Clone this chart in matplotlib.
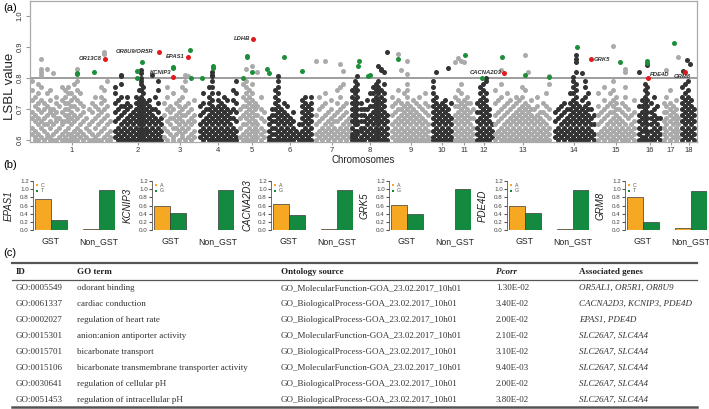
import matplotlib
matplotlib.use("Agg")
import matplotlib.pyplot as plt
import numpy as np

plt.rcParams['font.family'] = ['Liberation Sans', 'DejaVu Sans']

# ---------------- panel (a): LSBL manhattan data ----------------
chrom_names = [str(i) for i in range(1, 19)]
chrom_edges = [30, 113, 162, 197, 238, 266, 314, 350, 390, 431, 453, 475, 493, 552, 595, 637, 662, 680, 697]

# per chromosome: "position:lsbl*100,..." (cumulative position)
chrom_snps = [
    "32:62,64,67,69,73,76,79;35:60,61,63,66,68,71,74;38:60,62,65,67,70,72,75,78;41:61,64,66,69,73,77,81,82,83,86;44:60,63,65,67,70,72;47:61,62,65,68,71,75,83;50:60,61,64,66,69,70,73,76;53:60,62,65,68,70,81.7;56:60,63,66,67,69,72,74;59:61,64,67,71;62:60,62,65,66,69,73,77;65:60,61,63,66,68,70,72,74,76;68:60,62,64,66,67,68,70,72,75,77;71:60,61,62,65,67,69,71,73,75;74:60,61,63,66,68,71,74,78;77:60,62,64,67,70,73,76,79,82.9;80:61,63,65,68,72,75;83:60,62,66,69,71;86:61,64,67;89:60,63,65,70;92:60,62,66,69,72;95:60,61,64,67,71,74;98:60,62,65,68,70;101:60,63,66,69,72,74,77;104:61,64,67,70,73,76,88.4,87.7;107:60,62,65,68,71,79;110:60,61,63,66",
    "115:61,63,66,69,72,75,77;118:60,62,64,67,70,73;121:60,61,63,65,68,71,74,78,81,80.5;124:60,62,64,66,69,71;127:60,61,63,65,67,70,72,74;130:60,62,64,66,68,71;133:60,61,63,65,67,69;136:60,62,64,66,68,70,72,74;139:60,61,63,65,67,69,71,73,76;141:60,62,64,66,68,70,72,74,76,78,79,80,81.5,82.5;143:60,61,63,65,67,69,71,73,75,77;146:60,62,63,64,66,68,70,72;149:60,61,63,65,67,69,71,73;152:60,62,64,66,68,70,81;155:60,61,63,65,67,70,74;158:60,62,64,66,69,72,76,79;161:60,61,63,65,67",
    "164:61,64,68,72;167:60,63,66,70,74,77;170:62,65,67,69,71;173:60,61,64,67,70,75;176:62,64,66,68,72;179:60,63,65,67,69,71,73;182:61,62,64,66,68,70,74,77;185:60,63,65,68,71,76,79,81;188:61,64,66,69,72,80.5;191:60,62,65,67,70;194:61,63,66,68,73",
    "200:61,63,65,68,71;203:60,62,64,66,69,72,75;206:61,63,65,67,70;209:60,62,64,66,68,70,72,74,77;212:60,61,63,65,67,69,71,73,75,77,79,80.5,81,82;215:60,62,64,66,68,70;218:60,61,63,65,67,69,71,73,75;221:60,62,64,66,68,70,72;224:60,61,63,65,67,69,71,74;227:60,62,64,66,68,70,73;230:60,61,63,65,67,69;233:60,62,64,67,70,73,76;236:60,61,63,66,69,72,75,79",
    "240:61,64,67,70;243:60,62,65,68,71,74,78;246:60,61,63,65,67,69,71,73,75,77,79,83;249:60,62,64,66,68,70,72,74,76;252:60,61,63,65,67,69,71,73,75,78,84;255:60,62,64,66,68,70,72;257:61,63,65,68,71,82;261:60,62,64,67,70,74;264:61,63,66,69",
    "269:60,61,63,65,67;272:60,62,64,66,68,70;275:60,62,64,66,68,70,72,74,76;278:60,61,63,65,67,69,71,73,75,77,79,80.5;281:60,62,64,66,68,70;284:60,61,63,65,67,69,72;287:60,62,64,66,68,71;290:60,61,63,65,67;293:60,62,64,66,69;296:61,63;299:60,62,65;302:60,61,63,65,67,69,71,73;305:60,62,64,66,68,70,72,74;308:60,61,63,65,67,69,71;311:60,62,64,66,68,70,72,74",
    "316:60,62,65,68,85.5;319:61,63,66,70,74;322:60,62,64,67,71;325:61,63,65,68,72,75,85.3;328:60,62,64,66,69;331:61,63,65,67,70,73;334:60,62,64,66,68;337:61,63,66,69,72,76;340:60,62,64,67,70,74,77,84.5;343:61,63,65,68,71,78,82.2;346:60,62,64,66,69,72;349:61,63,65,67",
    "352:60,61,62,64,66,68,70,72,74,76;355:60,61,63,65,67,69,71,73,75,77,79;357:60,62,63,65,66,68,70,72,74,76,78,80.6;361:60,61,63,64,66,68,70,72;364:60,62,64,66,68,70;367:61,63,65,67,70,73;370:60,62,64,66,68,71,75;373:60,61,63,65,67,69,71,73,75,77;376:60,62,64,66,68,70,72,74,76,78;378:60,61,63,65,67,69,71,73,75,77,79,84;381:60,62,64,66,68,70,72,74,76,83,82.5;384:60,61,63,65,67,69,71,73,75,78,82;387:60,62,64,66,68,88.5",
    "392:61,63,65,68,71,74;395:60,62,64,66,69,72;398:60,61,63,65,67,70,73,76,87.7;401:60,62,64,66,68,70,72,82.6;404:60,61,63,65,67,69,71,75;407:60,62,64,66,68,70,72,74,76,78,81.3,85.5;410:60,61,63,65,67,69,71;413:60,62,64,66,68,70,73;416:60,61,63,65,67,69,72;419:60,62,64,66,68,71,74;422:60,61,63,65,67,70;425:60,62,64,66,69,72,75;428:60,61,63,65,68,71",
    "433:60,61,63,65,67,69,71,73,75,77,79;436:60,62,64,66,68,70,72,74,81.8;439:60,61,63,65,67,69,71;442:60,62,64,66,68,70,72;445:60,61,63,65,67,69,71,73;448:60,62,64,66,68,70,83.3;451:60,61,63,65,67,72",
    "455:60,62,64,66,68,71,74,85;458:60,61,63,65,67,69,71,73,76,86.5;461:60,62,64,66,68,70,72,75,78,85.3;464:60,61,63,65,67,69,71,73,85;467:60,62,64,66,68,70,72,74;470:60,61,63,65,67,69,72;473:60,62,64,67,70",
    "477:60,62,64,66,69,72;480:60,61,63,65,67,69,71,73,75,77;483:60,62,64,66,68,70,72,74,76,78;486:60,61,63,65,67,69,71,73,75,79,80;489:60,62,64,66,68,70;492:61,63,65",
    "495:60,62,65,68,72,76;498:61,63,66,69,73;501:60,62,64,67,70,74,78,82.6;504:60,61,63,65,68,71;507:60,62,64,66,69,72,75;510:60,61,63,65,67,70,73;513:60,62,64,66,68,71;516:60,61,63,65,67,69,72,74;519:60,62,64,66,68,70,73;522:60,61,63,65,67,69,71,74,77;525:60,62,64,66,68,70,72,76,87.4;528:60,61,63,65,67,69,71,82;531:60,62,64,66,68,70,73;534:60,61,63,65,67,70;537:60,62,64,66,68,71,74;540:60,61,63,65,67,69;543:60,62,64,66,69,72;546:60,61,63,65,68,71,75;549:60,62,64,67,70,78,80.5",
    "555:61,63,66,69;558:60,62,64,67,70;561:61,63,65,68,71;564:60,62,64,66,69,72;567:61,63,65,67,70;570:60,62,64,66,68,70,72,75;573:60,61,63,65,67,69,71,73,75,77,79,80.4;576:60,62,64,66,68,70,72,74,76,78,82,85,86,87.4;579:60,61,63,65,67,69,71;582:60,62,64,66,68,70,73,81.7;585:60,61,63,65,67,69,71,74,77,79;588:60,62,64,66,68,70,72,75;591:61,63,65,67,70;594:60,62,65,68",
    "598:60,62,65,68,71,75;601:61,63,66,69;604:60,62,64,67,70,73,77;607:61,63,65,68,71;610:60,62,64,66,69,72,75;613:60,61,63,65,67,69,71,73,76,79,90.3;616:60,62,64,66,68,70,72,74;619:61,63,65,67,70;622:60,62,64,66,69,72;625:60,61,63,65,68,71,74,77,82,82.8;628:60,62,64,67,70;631:61,63,65,68;634:60,62,64,66,69,73",
    "639:60,62,64,66,68,71,82;642:60,61,63,65,67,69,71,73;645:60,61,63,64,66,68,70,72,74,76,78;647:60,62,63,65,67,69,71,73,75,77,84.2;651:60,61,63,65,67,69,72;654:60,62,64,66,68,70,74;657:61,63,65,67,71;660:60,62,64,67",
    "664:60,62,64,66,69,72;666:61,63,65,67,69,71,74,82.6;670:60,62,64,66,68,70,72,76;673:61,63,65,67,69,71;676:60,62,64,66,68,70,73;678:61,63,65,67,86.9",
    "682:60,62,64,66,68,70,72,74,77;683:82.2;685:61,63,65,67,69,71,73,75,78;687:85.8;688:60,62,64,66,68,70,72,74,76,79;690:84.4;691:61,63,65,67,69,71,73;694:60,62,64,66,68,70",
]

# candidate windows above threshold (green)
green_pos = [77, 77, 93.7, 136.7, 136.7, 141.7, 173.3, 173.3, 190, 190.7, 201.7, 212.7, 212.7, 243.3,
             247.3, 247.3, 251.7, 266.7, 269.3, 284.3, 301.7, 359.3, 358.3, 368.3, 370, 397.7, 465,
             481.7, 502, 525, 549, 576.7, 619.7, 646.7, 646.7, 674.3]
green_lsbl = [0.817, 0.813, 0.818, 0.822, 0.800, 0.851, 0.836, 0.831, 0.890, 0.800, 0.800, 0.838, 0.833, 0.800,
              0.872, 0.866, 0.820, 0.828, 0.817, 0.866, 0.822, 0.853, 0.840, 0.807, 0.808, 0.861, 0.874,
              0.801, 0.867, 0.811, 0.804, 0.900, 0.851, 0.853, 0.848, 0.912]

# labelled genes (red)
red_genes = ['OR13C8', 'OR8U9/OR5R', 'KCNIP3', 'EPAS1', 'LDHB', 'CACNA2D3', 'GRK5', 'PDE4D', 'GRM8']
red_pos = [105.3, 159.3, 173.3, 188.3, 253.3, 504, 590.7, 648.3, 685]
red_lsbl = [0.862, 0.885, 0.804, 0.869, 0.926, 0.816, 0.860, 0.800, 0.820]
label_dx = [-4, -6, -2, -4, -3, -2, 3, 2, -3]
label_dy = [0, 0, 0.013, 0, 0, 0, 0, 0.010, -0.016]
label_ha = ['right', 'right', 'right', 'right', 'right', 'right', 'left', 'left', 'center']

threshold = 0.8

# ---------------- panel (b): allele frequencies ----------------
genes_b = ['EPAS1', 'KCNIP3', 'CACNA2D3', 'GRK5', 'PDE4D', 'GRM8']
allele1 = ['C', 'A', 'A', 'A', 'A', 'C']
allele2 = ['T', 'G', 'G', 'G', 'G', 'T']
gst_a1 = [0.76, 0.59, 0.64, 0.61, 0.59, 0.80]
gst_a2 = [0.24, 0.41, 0.36, 0.39, 0.41, 0.20]
non_a1 = [0.02, 0.01, 0.02, 0.005, 0.02, 0.05]
non_a2 = [0.98, 0.99, 0.98, 1.00, 0.98, 0.95]
groups = ['GST', 'Non_GST']

# ---------------- panel (c): GO enrichment table ----------------
col_heads = ['ID', 'GO term', 'Ontology source', 'Pcorr', 'Associated genes']
go_ids = ['GO:0005549', 'GO:0061337', 'GO:0002027', 'GO:0015301', 'GO:0015701', 'GO:0015106', 'GO:0030641', 'GO:0051453']
go_terms = ['odorant binding', 'cardiac conduction', 'regulation of heart rate', 'anion:anion antiporter activity',
            'bicarbonate transport', 'bicarbonate transmembrane transporter activity',
            'regulation of cellular pH', 'regulation of intracellular pH']
go_source = ['GO_MolecularFunction-GOA_23.02.2017_10h01', 'GO_BiologicalProcess-GOA_23.02.2017_10h01',
             'GO_BiologicalProcess-GOA_23.02.2017_10h01', 'GO_MolecularFunction-GOA_23.02.2017_10h01',
             'GO_BiologicalProcess-GOA_23.02.2017_10h01', 'GO_MolecularFunction-GOA_23.02.2017_10h01',
             'GO_BiologicalProcess-GOA_23.02.2017_10h01', 'GO_BiologicalProcess-GOA_23.02.2017_10h01']
go_pcorr = ['1.30E-02', '3.40E-02', '2.00E-02', '2.10E-02', '3.10E-02', '9.40E-03', '2.00E-02', '3.80E-02']
go_genes = ['OR5AL1, OR5R1, OR8U9', 'CACNA2D3, KCNIP3, PDE4D', 'EPAS1, PDE4D', 'SLC26A7, SLC4A4',
            'SLC26A7, SLC4A4', 'SLC26A7, SLC4A4', 'SLC26A7, SLC4A4', 'SLC26A7, SLC4A4']

W, H = 709, 409
GRAY, DARK = '#aaaaaa', '#333333'
GREEN, RED = '#1d8f3a', '#e31a1c'
ORANGE, BGREEN = '#f7a823', '#138a3f'


def box(l, t, r, b):
    return [l / W, 1 - b / H, (r - l) / W, (b - t) / H]


def parse(s):
    xs, ys = [], []
    for part in s.split(';'):
        x, vals = part.split(':')
        for v in vals.split(','):
            xs.append(float(x))
            ys.append(float(v) / 100)
    return xs, ys


fig = plt.figure(figsize=(W / 100, H / 100), dpi=100)

# table layer in pixel coordinates
tab = fig.add_axes([0, 0, 1, 1])
tab.set_xlim(0, W)
tab.set_ylim(H, 0)
tab.axis('off')

# ---- (a)
ax = fig.add_axes(box(30, 1, 697, 142))
for i, s in enumerate(chrom_snps):
    xs, ys = parse(s)
    ax.scatter(xs, ys, s=13, color=GRAY if i % 2 == 0 else DARK, linewidths=0, zorder=2)
ax.axhline(threshold, color='#8c8c8c', lw=1.2, zorder=1)
ax.scatter(green_pos, green_lsbl, s=13, color=GREEN, linewidths=0, zorder=3)
ax.scatter(red_pos, red_lsbl, s=13, color=RED, linewidths=0, zorder=4)
for g, x, y, dx, dy, ha in zip(red_genes, red_pos, red_lsbl, label_dx, label_dy, label_ha):
    ax.text(x + dx, y + dy, g, fontsize=4.2, style='italic', fontweight='bold', color='#333333',
            ha=ha, va='center', zorder=5)

ax.set_xlim(30, 697)
ax.set_ylim(0.5935, 1.048)
mids = [(a + b) / 2 for a, b in zip(chrom_edges[:-1], chrom_edges[1:])]
ax.set_xticks(mids)
ax.set_xticklabels(chrom_names)
ax.set_yticks([0.6, 0.7, 0.8, 0.9, 1.0])
ax.set_yticklabels(['0.6', '0.7', '0.8', '0.9', '1.0'], rotation=90, va='center')
ax.tick_params(axis='x', labelsize=5.5, length=2, pad=1.5, color='#999999', labelcolor='#333333')
ax.tick_params(axis='y', labelsize=5.5, length=3, pad=1.5, color='#999999', labelcolor='#333333')
for sp in ax.spines.values():
    sp.set_color('#aaaaaa')
    sp.set_linewidth(0.9)

fig.text(10 / W, 1 - 86 / H, 'LSBL value', rotation=90, fontsize=9.5, ha='center', va='center', color='#222222')
fig.text(363 / W, 1 - 160 / H, 'Chromosomes', fontsize=7, ha='center', va='center', color='#222222')
fig.text(3 / W, 1 - 8 / H, '(a)', fontsize=8, ha='left', va='center')
fig.text(3 / W, 1 - 165 / H, '(b)', fontsize=8, ha='left', va='center')
fig.text(3 / W, 1 - 253 / H, '(c)', fontsize=8, ha='left', va='center')

# ---- (b)
lefts = [33, 152, 271, 389, 507, 625]
for k, left in enumerate(lefts):
    bx = fig.add_axes(box(left, 181, left + 82, 230))
    bx.bar([1, 2], [gst_a1[k], gst_a2[k]], width=1, color=[ORANGE, BGREEN], edgecolor='#3a3a3a', linewidth=0.5)
    bx.bar([4, 5], [non_a1[k], non_a2[k]], width=1, color=[ORANGE, BGREEN], edgecolor='#3a3a3a', linewidth=0.5)
    bx.set_xlim(0.375, 5.5)
    bx.set_ylim(0, 1.2)
    bx.set_yticks(np.arange(0, 1.21, 0.2))
    bx.set_yticklabels(['%.1f' % v for v in np.arange(0, 1.21, 0.2)])
    bx.set_xticks([1.5, 4.5])
    bx.set_xticklabels(groups)
    bx.tick_params(axis='y', labelsize=4.5, length=2, pad=1, color='#555555', labelcolor='#444444')
    bx.tick_params(axis='x', labelsize=6.3, length=0, pad=5, labelcolor='#222222')
    for sp in ['top', 'right', 'bottom']:
        bx.spines[sp].set_visible(False)
    bx.spines['left'].set_color('#555555')
    bx.spines['left'].set_linewidth(0.6)
    bx.patch.set_alpha(0)
    bx.scatter([0.64, 0.64], [1.10, 0.96], marker='s', s=3, color=[ORANGE, BGREEN], linewidths=0, clip_on=False)
    bx.text(0.85, 1.10, allele1[k], fontsize=3.8, va='center', color='#555555')
    bx.text(0.85, 0.96, allele2[k], fontsize=3.8, va='center', color='#555555')
    bx.text(-24 / 82, 0.5, genes_b[k], transform=bx.transAxes, rotation=90, fontsize=7,
            style='italic', ha='center', va='center', color='#222222')

# ---- (c)
serif = ['Liberation Serif', 'DejaVu Serif']
tc = '#333333'
fs = 6.5
col_x = [16, 77, 281, 496, 579]
tab.plot([12, 697], [263, 263], color='#555555', lw=1.6)
tab.plot([12, 697], [280, 280], color='#555555', lw=0.9)
tab.plot([12, 697], [406.5, 406.5], color='#555555', lw=1.8)
for j, (x, h) in enumerate(zip(col_x, col_heads)):
    tab.text(x, 272, h, family=serif, fontsize=fs, fontweight='bold',
             style='italic' if h == 'Pcorr' else 'normal', ha='left', va='center', color='#222222')
row_y = [288, 304, 319.5, 335.5, 351.5, 367.5, 384, 400]
for i, y in enumerate(row_y):
    tab.text(col_x[0], y, go_ids[i], family=serif, fontsize=fs, ha='left', va='center', color=tc)
    tab.text(col_x[1], y, go_terms[i], family=serif, fontsize=fs, ha='left', va='center', color=tc)
    tab.text(col_x[2], y, go_source[i], family=serif, fontsize=fs, ha='left', va='center', color=tc)
    tab.text(col_x[3], y, go_pcorr[i], family=serif, fontsize=fs, ha='left', va='center', color=tc)
    tab.text(col_x[4], y, go_genes[i], family=serif, fontsize=fs, style='italic', ha='left', va='center', color=tc)

fig.savefig('out.png', dpi=100)
